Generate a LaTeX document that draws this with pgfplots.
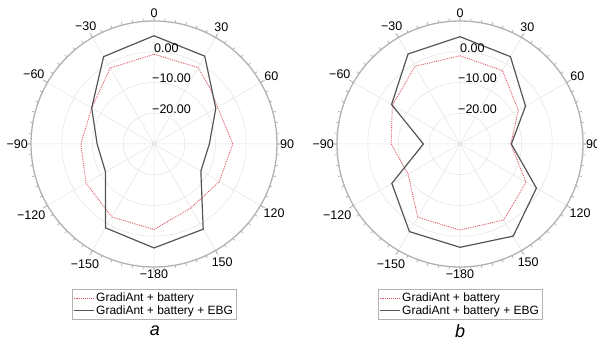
\documentclass[border=0pt]{standalone}
\usepackage{pgfplots}
\pgfplotsset{compat=1.18}
\usepackage{pgfplotstable}
\usepgfplotslibrary{polar}
\usepackage{fontspec}
\setmainfont{Liberation Sans}

\definecolor{redc}{RGB}{222,85,100}
\definecolor{ebgc}{RGB}{85,85,85}

% angle a: degrees clockwise from top (as labelled); d: gain in dB
\pgfplotstableread{
a d
0 -0.8
30 -1.3
45 -4.3
90 -4.4
120 -5.5
150 -6.0
180 -2.2
210 -2.6
240 -4.5
270 -6.2
300 -6.6
330 -1.5
360 -0.8
}\LeftRed
\pgfplotstableread{
a d
0 5.2
30 3.0
60 -6.8
90 -12.0
120 -12.4
150 2.0
180 3.8
210 1.5
240 -11.8
270 -11.5
300 -6.6
330 2.8
360 5.2
}\LeftEBG
\pgfplotstableread{
a d
0 -1.3
30 -2.4
60 -8.1
90 -13.5
120 -5.2
150 -1.5
180 -2.0
210 -2.5
240 -10.5
270 -7.6
300 -4.6
330 -0.8
360 -1.3
}\RightRed
\pgfplotstableread{
a d
0 4.9
30 2.8
60 -5.4
90 -13.3
120 -1.3
150 4.6
180 3.6
210 2.9
240 -4.4
270 -18.1
300 -4.3
330 3.8
360 4.9
}\RightEBG

\tikzset{
  rlab/.style={anchor=west, font=\fontsize{12.5}{12.5}\selectfont, inner sep=0pt, yshift=4pt},
  redl/.style={color=redc, densely dotted, line width=0.9pt},
  ebgl/.style={color=ebgc, line width=1.2pt},
}
\pgfplotsset{
  myp/.style={
    scale only axis, width=246pt, height=246pt,
    xmin=0, xmax=360, ymin=0, ymax=40,
    xtick={0,30,...,330},
    xticklabels={90,60,30,0,−30,−60,−90,−120,−150,−180,150,120},
    minor xtick={0,5,...,355},
    ytick={10,20,30},
    yticklabels={},
    ytick style={draw=none},
    grid=major,
    major grid style={gray!22, line width=0.5pt},
    x axis line style={gray!60, line width=1.3pt},
    y axis line style={draw=none},
    xtick style={gray!65, line width=0.7pt},
    major tick length=5pt, minor tick length=3pt,
    xticklabel style={font=\fontsize{12.5}{12.5}\selectfont, inner sep=3pt},
    clip=false,
    legend cell align=left,
    legend image code/.code={\draw[##1] (0pt,0pt) -- (9pt,0pt); \path (0pt,0pt) -- (20pt,0pt);},
    legend style={at={(0.5,-0.09)}, anchor=north, draw=gray!60, line width=0.6pt,
      font=\fontsize{12}{12}\selectfont, inner xsep=1pt, inner ysep=1.5pt,
      row sep=-1.5pt},
  },
}

\begin{document}
\begin{tikzpicture}
\useasboundingbox (0,0) rectangle (597pt,343pt);
\clip (0,0) rectangle (597pt,343pt);

\begin{polaraxis}[myp, at={(154pt,199pt)}, anchor=center]
\addplot[redl] table[x expr={90-\thisrow{a}}, y expr={\thisrow{d}+30}] {\LeftRed};
\addlegendentry{GradiAnt + battery}
\addplot[ebgl] table[x expr={90-\thisrow{a}}, y expr={\thisrow{d}+30}] {\LeftEBG};
\addlegendentry{GradiAnt + battery + EBG}
\node[rlab] at (axis cs:90,30) {0.00};
\node[rlab, xshift=-2pt] at (axis cs:90,20) {−10.00};
\node[rlab, xshift=-2pt] at (axis cs:90,10) {−20.00};
\end{polaraxis}

\begin{polaraxis}[myp, at={(460pt,199pt)}, anchor=center]
\addplot[redl] table[x expr={90-\thisrow{a}}, y expr={\thisrow{d}+30}] {\RightRed};
\addlegendentry{GradiAnt + battery}
\addplot[ebgl] table[x expr={90-\thisrow{a}}, y expr={\thisrow{d}+30}] {\RightEBG};
\addlegendentry{GradiAnt + battery + EBG}
\node[rlab] at (axis cs:90,30) {0.00};
\node[rlab, xshift=-2pt] at (axis cs:90,20) {−10.00};
\node[rlab, xshift=-2pt] at (axis cs:90,10) {−20.00};
\end{polaraxis}

\node[font=\fontsize{18}{18}\selectfont\itshape] at (155pt,12pt) {a};
\node[font=\fontsize{18}{18}\selectfont\itshape] at (460pt,12pt) {b};
\end{tikzpicture}
\end{document}
